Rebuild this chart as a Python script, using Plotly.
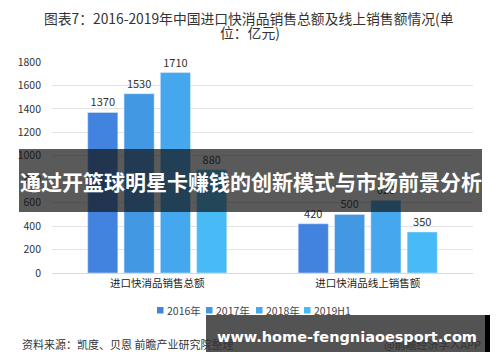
import plotly.graph_objects as go

categories = ["进口快消品销售总额", "进口快消品线上销售额"]
series_names = ["2016年", "2017年", "2018年", "2019H1"]
values_2016 = [1370, 420]
values_2017 = [1530, 500]
values_2018 = [1710, 620]
values_2019h1 = [880, 350]
colors = ["#4283e0", "#4398e4", "#45a8ef", "#48bbf7"]

FONT = "Noto Sans CJK SC, Noto Sans, sans-serif"

# plot area in pixels: left 52, right 473, top 62, bottom 273
L, R, T, B = 52, 473, 62, 273
def px(x):
    return (x - L) / (R - L)
def py(y):
    return (B - y) / (B - T)

fig = go.Figure()
for name, vals, col in zip(series_names, [values_2016, values_2017, values_2018, values_2019h1], colors):
    fig.add_trace(go.Bar(
        x=categories, y=vals, name=name, marker_color=col,
        text=[str(v) for v in vals], textposition="outside",
        textfont=dict(size=11, color="#333"), cliponaxis=False,
    ))

fig.update_layout(
    width=500, height=362,
    margin=dict(l=L, r=500 - R, t=T, b=362 - B),
    paper_bgcolor="white", plot_bgcolor="white",
    font=dict(family=FONT, color="#333", size=11),
    barmode="group", bargap=0.31, bargroupgap=0.17,
    showlegend=False,
    xaxis=dict(showline=True, linecolor="#d9d9d9", tickfont=dict(size=10.5, color="#222"),
               ticks="", showgrid=False),
    yaxis=dict(range=[0, 1800], dtick=200, showgrid=True, gridcolor="#e3e3e3",
               zeroline=False, tickfont=dict(size=10.5, color="#333"), ticks="",
               ticklabelstandoff=10),
)

# Manual compact legend
legend_x = [157, 206, 256, 304]
for name, col, lx in zip(series_names, colors, legend_x):
    fig.add_shape(type="rect", xref="paper", yref="paper",
                  x0=px(lx), x1=px(lx + 6.5), y0=py(313.5), y1=py(307),
                  fillcolor=col, line_width=0)
    fig.add_annotation(xref="paper", yref="paper", x=px(lx + 7.5), y=py(310.5),
                       xanchor="left", yanchor="middle", text=name, showarrow=False,
                       font=dict(size=10.5, color="#444", family=FONT))

# Title (two lines)
fig.add_annotation(xref="paper", yref="paper", x=px(248.5), y=py(18), xanchor="center", yanchor="middle",
                   text="图表7：2016-2019年中国进口快消品销售总额及线上销售额情况(单",
                   showarrow=False, font=dict(size=13.8, color="#333", family=FONT))
fig.add_annotation(xref="paper", yref="paper", x=px(250), y=py(32), xanchor="center", yanchor="middle",
                   text="位：亿元)",
                   showarrow=False, font=dict(size=13.8, color="#333", family=FONT))

# Source
fig.add_annotation(xref="paper", yref="paper", x=px(20), y=py(344), xanchor="left", yanchor="middle",
                   text="资料来源：凯度、贝恩 前瞻产业研究院整理", showarrow=False,
                   font=dict(size=11, color="#333", family=FONT))
fig.add_annotation(xref="paper", yref="paper", x=px(483), y=py(344), xanchor="right", yanchor="middle",
                   text="@前瞻经济学人APP", showarrow=False,
                   font=dict(size=11, color="#333", family=FONT))

# Dark banner overlay
fig.add_shape(type="rect", xref="paper", yref="paper", x0=px(19), x1=px(482), y0=py(212), y1=py(149),
              fillcolor="rgba(20,20,20,0.7)", line_width=0, layer="above")
fig.add_annotation(xref="paper", yref="paper", x=px(250.5), y=py(181), xanchor="center", yanchor="middle",
                   text="<b>通过开篮球明星卡赚钱的创新模式与市场前景分析</b>", showarrow=False,
                   font=dict(size=21, color="white", family=FONT))

# URL box
fig.add_shape(type="rect", xref="paper", yref="paper", x0=px(206), x1=px(485), y0=py(352), y1=py(315),
              fillcolor="rgba(40,40,40,0.8)", line_width=0, layer="above")
fig.add_shape(type="rect", xref="paper", yref="paper", x0=px(485), x1=px(490), y0=py(352), y1=py(315),
              fillcolor="black", line_width=0, layer="above")
fig.add_annotation(xref="paper", yref="paper", x=px(347), y=py(337), xanchor="center", yanchor="middle",
                   text="<b>www.home-fengniaoesport.com</b>", showarrow=False,
                   font=dict(size=14.5, color="white", family="DejaVu Sans, sans-serif"))

fig.write_html("out.html", config={"displayModeBar": False},
               post_script="document.body.style.margin='0';document.body.style.padding='0';")
